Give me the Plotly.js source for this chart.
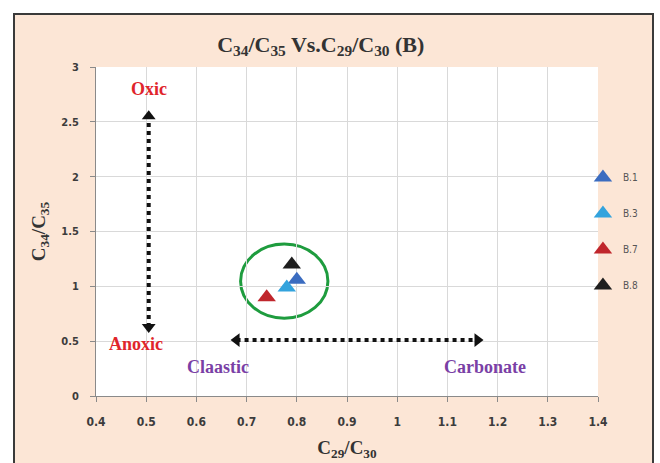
<!DOCTYPE html>
<html>
<head>
<meta charset="utf-8">
<script src="https://cdn.plot.ly/plotly-3.0.1.min.js"></script>
<style>
html,body{margin:0;padding:0;background:#fff;width:660px;height:463px;overflow:hidden;}
#frame{position:absolute;left:13px;top:13px;border:2px solid #3a3a3a;width:637px;height:480px;background:#fce6d6;}
#chart{position:absolute;left:0;top:0;}
</style>
</head>
<body>
<div id="frame"><div id="chart"></div></div>
<script>
// Sample data
const sampleNames = ['B.1', 'B.3', 'B.7', 'B.8'];
const c29c30 = [0.80, 0.78, 0.74, 0.79];
const c34c35 = [1.06, 0.99, 0.90, 1.20];
const sampleColors = ['#3b6cc0', '#33a3dd', '#c0262c', '#1e1e1e'];

// Axis ticks
const xTicks = [0.4, 0.5, 0.6, 0.7, 0.8, 0.9, 1, 1.1, 1.2, 1.3, 1.4];
const yTicks = [0, 0.5, 1, 1.5, 2, 2.5, 3];

// Guide arrows (Oxic/Anoxic vertical, Claastic/Carbonate horizontal)
const vArrowX = [0.505, 0.505];
const vArrowY = [0.63, 2.55];
const hArrowX = [0.68, 1.16];
const hArrowY = [0.51, 0.51];

// Cluster ellipse bounds
const ellipseX = [0.688, 0.862];
const ellipseY = [0.71, 1.385];

// Label positions
const labelText = ['Oxic', 'Anoxic', 'Claastic', 'Carbonate'];
const labelX = [0.505, 0.48, 0.643, 1.175];
const labelY = [2.80, 0.47, 0.265, 0.265];
const labelColor = ['#e0252b', '#e0252b', '#7a3fa6', '#7a3fa6'];

const serif = 'Liberation Serif, Times New Roman, serif';
const tickFont = {family: 'DejaVu Sans Condensed, Liberation Sans Narrow, Arial Narrow, sans-serif', size: 12, color: '#3c3c3c', weight: 'bold'};

const traces = sampleNames.map((n, i) => ({
  type: 'scatter', mode: 'markers', name: n,
  x: [c29c30[i]], y: [c34c35[i]],
  legendgroup: n,
  marker: {symbol: 'triangle-up', size: 16, color: sampleColors[i]}
}));

traces.push({
  type: 'scatter', mode: 'lines+markers', x: vArrowX, y: vArrowY, showlegend: false, hoverinfo: 'skip',
  line: {color: '#111', width: 4, dash: 'dot'},
  marker: {symbol: ['triangle-down', 'triangle-up'], size: 12, color: '#111'}
});
traces.push({
  type: 'scatter', mode: 'lines+markers', x: hArrowX, y: hArrowY, showlegend: false, hoverinfo: 'skip',
  line: {color: '#111', width: 4, dash: 'dot'},
  marker: {symbol: ['triangle-left', 'triangle-right'], size: 12, color: '#111'}
});

const annotations = labelText.map((t, i) => ({
  x: labelX[i], y: labelY[i], xref: 'x', yref: 'y', text: '<b>' + t + '</b>', showarrow: false,
  font: {family: serif, size: 18, color: labelColor[i]}
}));

const layout = {
  width: 637, height: 480,
  margin: {l: 81, t: 52, r: 54, b: 99, autoexpand: false},
  paper_bgcolor: 'rgba(0,0,0,0)',
  plot_bgcolor: '#ffffff',
  title: {
    text: '<b>C<sub>34</sub>/C<sub>35</sub> Vs.C<sub>29</sub>/C<sub>30</sub> (B)</b>',
    font: {family: serif, size: 22, color: '#333'},
    x: 0.48, xanchor: 'center', y: 1 - 29/480, yanchor: 'middle', yref: 'container'
  },
  xaxis: {
    range: [0.4, 1.4], tickvals: xTicks, ticktext: xTicks.map(String),
    showgrid: true, gridcolor: '#d9d9d9', gridwidth: 1,
    showline: true, linecolor: '#8a8a8a', linewidth: 1,
    ticks: 'outside', ticklen: 5, tickcolor: '#8a8a8a', ticklabelstandoff: 10,
    zeroline: false, tickfont: tickFont,
    title: {text: '<b>C<sub>29</sub>/C<sub>30</sub></b>', font: {family: serif, size: 19, color: '#333'}, standoff: 12}
  },
  yaxis: {
    range: [0, 3], tickvals: yTicks, ticktext: yTicks.map(String),
    showgrid: true, gridcolor: '#d9d9d9', gridwidth: 1,
    showline: true, linecolor: '#8a8a8a', linewidth: 1,
    ticks: 'outside', ticklen: 5, tickcolor: '#8a8a8a', ticklabelstandoff: 9,
    zeroline: false, tickfont: Object.assign({}, tickFont, {size: 11}),
    title: {text: '<b>C<sub>34</sub>/C<sub>35</sub></b>', font: {family: serif, size: 19, color: '#333'}, standoff: 10}
  },
  legend: {
    x: 0.97, xanchor: 'left', y: 0.708, yanchor: 'top',
    bgcolor: 'rgba(0,0,0,0)', tracegroupgap: 17,
    font: {family: 'DejaVu Sans Condensed, sans-serif', size: 10, color: '#555'},
    itemwidth: 30
  },
  shapes: [{
    type: 'circle', xref: 'x', yref: 'y',
    x0: ellipseX[0], x1: ellipseX[1], y0: ellipseY[0], y1: ellipseY[1],
    line: {color: '#1e9c3e', width: 3}, layer: 'below'
  }],
  annotations: annotations,
  showlegend: true
};

Plotly.newPlot('chart', traces, layout, {displayModeBar: false, staticPlot: true});
</script>
</body>
</html>
